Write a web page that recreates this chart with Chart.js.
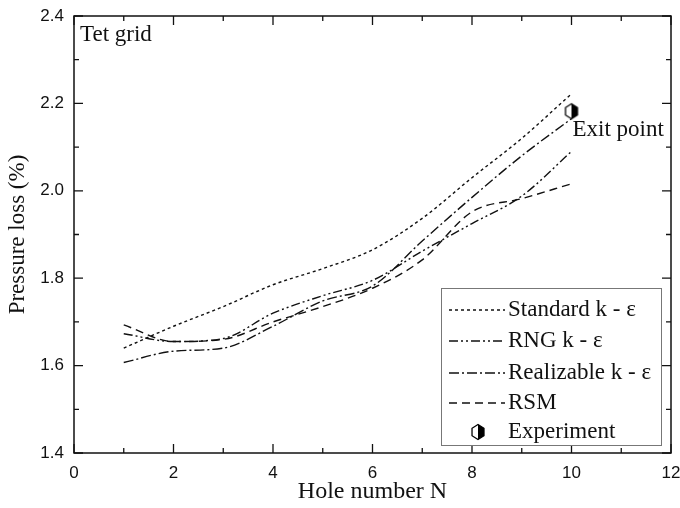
<!DOCTYPE html>
<html>
<head>
<meta charset="utf-8">
<script src="https://cdn.jsdelivr.net/npm/chart.js@4"></script>
<style>
  body { margin: 0; background: #fff; }
  #wrap { width: 680px; height: 508px; }
</style>
</head>
<body>
<div id="wrap"><canvas id="myChart" width="680" height="508"></canvas></div>
<script>
// hole numbers along the duct
var holes = [1, 2, 3, 4, 5, 6, 7, 8, 9, 10]
// pressure loss (%) per model
var standardKE = [1.64, 1.69, 1.735, 1.785, 1.822, 1.865, 1.937, 2.03, 2.12, 2.222]
var rngKE = [1.673, 1.655, 1.662, 1.72, 1.76, 1.795, 1.862, 1.925, 1.988, 2.09]
var realizableKE = [1.607, 1.633, 1.64, 1.69, 1.748, 1.782, 1.885, 1.985, 2.08, 2.165]
var rsm = [1.693, 1.655, 1.66, 1.7, 1.735, 1.777, 1.842, 1.952, 1.982, 2.016]
var expHole = [10]
var expLoss = [2.182]
var xTicks = [0, 2, 4, 6, 8, 10, 12]
var yTicks = [1.4, 1.6, 1.8, 2.0, 2.2, 2.4]

var serif = '"Liberation Serif", "Times New Roman", serif'
var sans = '"Liberation Sans", Arial, sans-serif'

function toPoints(xs, ys){
    var pts = []
    for (let i = 0; i < xs.length; i++){
        pts.push({x: xs[i], y: ys[i]})
    }
    return pts
}

// half filled hexagon marker for the experiment point
function hexMarker(){
    var c = document.createElement('canvas')
    c.width = 16; c.height = 18
    var g = c.getContext('2d')
    var cx = 8, cy = 9, r = 7.5
    var pts = []
    for (let i = 0; i < 6; i++){
        var a = Math.PI / 2 + i * Math.PI / 3
        pts.push([cx + r * Math.cos(a) * 0.92, cy - r * Math.sin(a)])
    }
    // right half black
    g.fillStyle = '#000'
    g.beginPath()
    g.moveTo(cx, cy - r)
    g.lineTo(pts[5][0], pts[5][1])
    g.lineTo(pts[4][0], pts[4][1])
    g.lineTo(cx, cy + r)
    g.closePath()
    g.fill()
    g.strokeStyle = '#000'
    g.lineWidth = 1.3
    g.beginPath()
    g.moveTo(pts[0][0], pts[0][1])
    for (let i = 1; i < 6; i++) g.lineTo(pts[i][0], pts[i][1])
    g.closePath()
    g.stroke()
    return c
}
var marker = hexMarker()

var styles = [
    {label: 'Standard k - \u03b5', data: standardKE, dash: [3, 3]},
    {label: 'RNG k - \u03b5', data: rngKE, dash: [9, 3, 2, 3, 2, 3]},
    {label: 'Realizable k - \u03b5', data: realizableKE, dash: [10, 3, 2, 3]},
    {label: 'RSM', data: rsm, dash: [8, 5]}
]

var datasets = styles.map(function(s){
    return {
        label: s.label,
        data: toPoints(holes, s.data),
        borderColor: '#111',
        borderWidth: 1.4,
        borderDash: s.dash,
        pointRadius: 0,
        fill: false,
        cubicInterpolationMode: 'monotone'
    }
})
datasets.push({
    label: 'Experiment',
    data: toPoints(expHole, expLoss),
    showLine: false,
    pointStyle: marker,
    pointRadius: 8,
    borderColor: '#000'
})

// frame, inward ticks, legend and notes
var decor = {
    id: 'decor',
    afterDraw: function(chart){
        var ctx = chart.ctx
        var a = chart.chartArea
        var xs = chart.scales.x, ys = chart.scales.y
        ctx.save()
        ctx.strokeStyle = '#111'
        ctx.lineWidth = 1.5
        ctx.strokeRect(a.left, a.top, a.right - a.left, a.bottom - a.top)
        ctx.lineWidth = 1.3
        ctx.beginPath()
        for (let v = 0; v <= 12; v++){
            var px = xs.getPixelForValue(v)
            var len = v % 2 === 0 ? 9 : 5
            ctx.moveTo(px, a.bottom); ctx.lineTo(px, a.bottom - len)
            ctx.moveTo(px, a.top); ctx.lineTo(px, a.top + len)
        }
        for (let k = 0; k <= 10; k++){
            var py = ys.getPixelForValue(1.4 + k * 0.1)
            var len2 = k % 2 === 0 ? 9 : 5
            ctx.moveTo(a.left, py); ctx.lineTo(a.left + len2, py)
            ctx.moveTo(a.right, py); ctx.lineTo(a.right - len2, py)
        }
        ctx.stroke()

        // notes
        ctx.fillStyle = '#111'
        ctx.font = '23px ' + serif
        ctx.textBaseline = 'alphabetic'
        ctx.fillText('Tet grid', a.left + 6, a.top + 25)
        ctx.fillText('Exit point', xs.getPixelForValue(10) + 1, ys.getPixelForValue(expLoss[0]) + 25)

        // legend box
        var bx = 441, by = 288, bw = 220, bh = 157
        ctx.fillStyle = '#fff'
        ctx.fillRect(bx, by, bw, bh)
        ctx.strokeStyle = '#777'
        ctx.lineWidth = 1
        ctx.strokeRect(bx + 0.5, by + 0.5, bw, bh)
        ctx.strokeStyle = '#111'
        ctx.lineWidth = 1.3
        ctx.font = '23px ' + serif
        ctx.textBaseline = 'middle'
        var rowY = [55, 86, 118, 148, 177]
        for (let i = 0; i < styles.length; i++){
            var yy = 255 + rowY[i]
            ctx.setLineDash(styles[i].dash)
            ctx.beginPath()
            ctx.moveTo(449, yy); ctx.lineTo(505, yy)
            ctx.stroke()
            ctx.setLineDash([])
            ctx.fillStyle = '#111'
            ctx.fillText(styles[i].label, 508, yy)
        }
        ctx.drawImage(marker, 470, 255 + rowY[4] - 9)
        ctx.fillText('Experiment', 508, 255 + rowY[4])
        ctx.restore()
    }
}

const ctx = document.getElementById('myChart')
new Chart(ctx, {
    type: 'line',
    data: {datasets: datasets},
    options: {
        responsive: false,
        animation: false,
        layout: {padding: {top: 16, right: 0, left: 0, bottom: 0}},
        plugins: {legend: {display: false}, tooltip: {enabled: false}},
        scales: {
            x: {
                type: 'linear',
                min: 0, max: 12,
                afterBuildTicks: function(s){ s.ticks = xTicks.map(function(v){ return {value: v} }) },
                afterFit: function(s){ s.height = 55; s.paddingRight = 8 },
                grid: {display: false},
                border: {display: false},
                ticks: {color: '#111', font: {family: sans, size: 17}, padding: 2},
                title: {display: true, text: 'Hole number N', color: '#111', font: {family: serif, size: 24}, padding: {top: 0, bottom: 2}}
            },
            y: {
                min: 1.4, max: 2.4,
                afterBuildTicks: function(s){ s.ticks = yTicks.map(function(v){ return {value: v} }) },
                afterFit: function(s){ s.width = 74; s.paddingTop = 0 },
                grid: {display: false},
                border: {display: false},
                ticks: {color: '#111', font: {family: sans, size: 17}, padding: 2,
                    callback: function(v){ return Number(v).toFixed(1) }},
                title: {display: true, text: 'Pressure loss (%)', color: '#111', font: {family: serif, size: 23}, padding: {bottom: 0}}
            }
        }
    },
    plugins: [decor]
})
</script>
</body>
</html>
